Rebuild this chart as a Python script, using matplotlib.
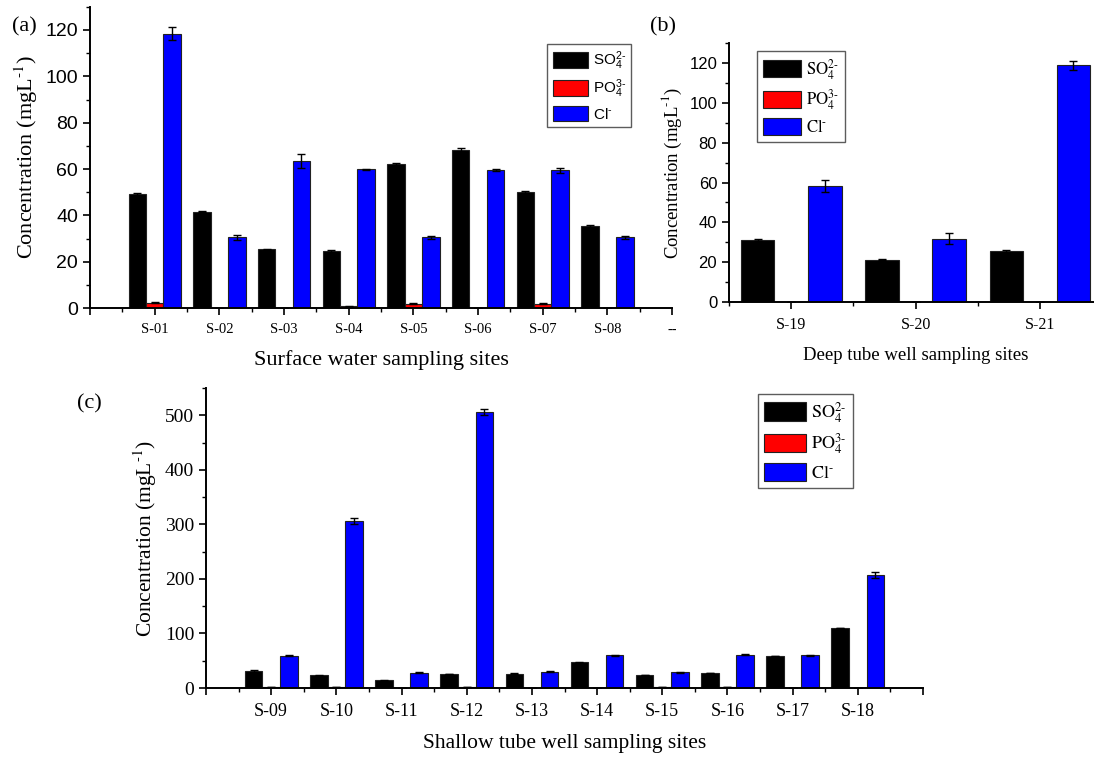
import numpy as np
import matplotlib
matplotlib.use('Agg')
from matplotlib import pyplot as plt
from matplotlib.font_manager import FontProperties
from matplotlib.ticker import MultipleLocator

# (a) surface water
sites_a = ['S-01', 'S-02', 'S-03', 'S-04', 'S-05', 'S-06', 'S-07', 'S-08']
so4_a = [49.1, 41.6, 25.3, 24.7, 62.2, 68.2, 50.0, 35.5]
po4_a = [2.3, 0.2, 0.0, 0.7, 1.9, 0.0, 1.9, 0.0]
cl_a = [118.4, 30.5, 63.4, 59.9, 30.5, 59.6, 59.4, 30.6]
so4_a_err = [0.7, 0.3, 0.2, 0.5, 0.3, 1.0, 0.5, 0.3]
po4_a_err = [0.2, 0.0, 0.0, 0.1, 0.2, 0.0, 0.2, 0.0]
cl_a_err = [2.8, 1.2, 3.0, 0.2, 0.6, 0.6, 1.0, 0.6]

# (b) deep tube well
sites_b = ['S-19', 'S-20', 'S-21']
so4_b = [31.1, 21.3, 25.5]
po4_b = [0.0, 0.0, 0.0]
cl_b = [58.5, 31.9, 118.8]
so4_b_err = [0.4, 0.1, 0.8]
po4_b_err = [0.0, 0.0, 0.0]
cl_b_err = [3.0, 3.0, 2.3]

# (c) shallow tube well
sites_c = ['S-09', 'S-10', 'S-11', 'S-12', 'S-13', 'S-14', 'S-15', 'S-16', 'S-17', 'S-18']
so4_c = [31.3, 23.3, 14.1, 25.8, 26.4, 47.3, 23.6, 27.4, 58.5, 110.0]
po4_c = [1.5, 2.0, 0.0, 2.0, 0.5, 0.0, 1.5, 1.5, 0.0, 0.5]
cl_c = [59.5, 306.0, 28.2, 506.7, 30.0, 59.7, 28.6, 61.0, 59.7, 207.0]
so4_c_err = [1.0, 0.5, 0.5, 0.8, 0.5, 0.5, 0.5, 0.5, 0.5, 0.5]
po4_c_err = [0.0] * 10
cl_c_err = [1.0, 5.5, 1.0, 5.5, 1.0, 1.0, 1.0, 1.0, 1.0, 5.0]

labels = [r'$\mathrm{SO_4^{2\text{-}}}$', r'$\mathrm{PO_4^{3\text{-}}}$', r'$\mathrm{Cl^{\text{-}}}$']
colors = ['#000000', '#ff0000', '#0000ff']

SERIF = 'Liberation Serif'
SANS = 'Liberation Sans'

plt.rcParams['mathtext.fontset'] = 'custom'
plt.rcParams['mathtext.rm'] = SANS
plt.rcParams['mathtext.it'] = SANS + ':italic'

fig = plt.figure(figsize=(10.94, 7.57), dpi=100)


def draw_panel(ax, sites, series, errs, xstart, xend, ymax, ymajor, yminor,
               ytick_font, ytick_size, xtick_size, label_size, xlabel,
               leg_font, leg_math, leg_size, leg_loc, first_pos, end_labels):
    w = 0.27
    x = np.arange(len(sites)) + first_pos
    for i, (vals, err) in enumerate(zip(series, errs)):
        ax.bar(x + (i - 1) * w, vals, w, color=colors[i], edgecolor='#222222',
               linewidth=0.8, label=labels[i], zorder=2)
        ax.errorbar(x + (i - 1) * w, vals, yerr=err, fmt='none', ecolor='black',
                    elinewidth=1.0, capsize=3, capthick=1.0, zorder=3)

    ax.set_xlim(xstart, xend)
    ax.set_ylim(0, ymax)
    ax.spines['top'].set_visible(False)
    ax.spines['right'].set_visible(False)
    ax.spines['left'].set_linewidth(1.4)
    ax.spines['bottom'].set_linewidth(1.4)

    ticks = list(x)
    tlabels = list(sites)
    if end_labels is not None:
        ticks = [0] + ticks + [xend]
        tlabels = [''] + tlabels + [end_labels]
    ax.set_xticks(ticks)
    ax.set_xticklabels(tlabels, fontfamily=SERIF, fontsize=xtick_size)
    ax.xaxis.set_minor_locator(MultipleLocator(0.5))
    ax.yaxis.set_major_locator(MultipleLocator(ymajor))
    ax.yaxis.set_minor_locator(MultipleLocator(yminor))
    for t in ax.get_yticklabels():
        t.set_fontfamily(ytick_font)
        t.set_fontsize(ytick_size)
    ax.tick_params(axis='both', which='major', direction='out', length=5, width=1.2)
    ax.tick_params(axis='both', which='minor', direction='out', length=3, width=1.0)
    ax.tick_params(axis='x', which='major', pad=6)

    ax.set_ylabel(r'Concentration (mgL$^{\text{-}1}$)', fontfamily=SERIF, fontsize=label_size,
                  math_fontfamily='stix')
    ax.set_xlabel(xlabel, fontfamily=SERIF, fontsize=label_size, labelpad=10)

    prop = FontProperties(family=leg_font, size=leg_size, math_fontfamily=leg_math)
    leg = ax.legend(loc='upper left', bbox_to_anchor=leg_loc, prop=prop, frameon=True,
                    fancybox=False, edgecolor='#333333', handlelength=2.3,
                    handleheight=1.2, labelspacing=0.35, borderpad=0.35,
                    handletextpad=0.3, borderaxespad=0)
    leg.get_frame().set_linewidth(1.0)


# (a)
ax_a = fig.add_axes([0.0823, 0.593, 0.532, 0.398])
draw_panel(ax_a, sites_a, [so4_a, po4_a, cl_a], [so4_a_err, po4_a_err, cl_a_err],
           0, 9, 130, 20, 10, SANS, 14, 10.5, 16, 'Surface water sampling sites',
           SANS, 'custom', 11, (0.786, 0.875), 1, '--')

# (b)
ax_b = fig.add_axes([0.6664, 0.601, 0.341, 0.342])
draw_panel(ax_b, sites_b, [so4_b, po4_b, cl_b], [so4_b_err, po4_b_err, cl_b_err],
           0.5, 3.5, 130, 20, 10, SANS, 12, 11.5, 13.5, 'Deep tube well sampling sites',
           SERIF, 'stix', 12, (0.075, 0.97), 1, None)

# (c)
ax_c = fig.add_axes([0.1883, 0.0911, 0.6554, 0.3963])
draw_panel(ax_c, sites_c, [so4_c, po4_c, cl_c], [so4_c_err, po4_c_err, cl_c_err],
           0, 11, 550, 100, 50, SERIF, 14, 13, 15.5, 'Shallow tube well sampling sites',
           SERIF, 'stix', 13, (0.77, 0.98), 1, '')

fig.text(0.011, 0.958, '(a)', fontfamily=SERIF, fontsize=16)
fig.text(0.594, 0.958, '(b)', fontfamily=SERIF, fontsize=16)
fig.text(0.070, 0.461, '(c)', fontfamily=SERIF, fontsize=16)

fig.savefig('out.png', dpi=100)
